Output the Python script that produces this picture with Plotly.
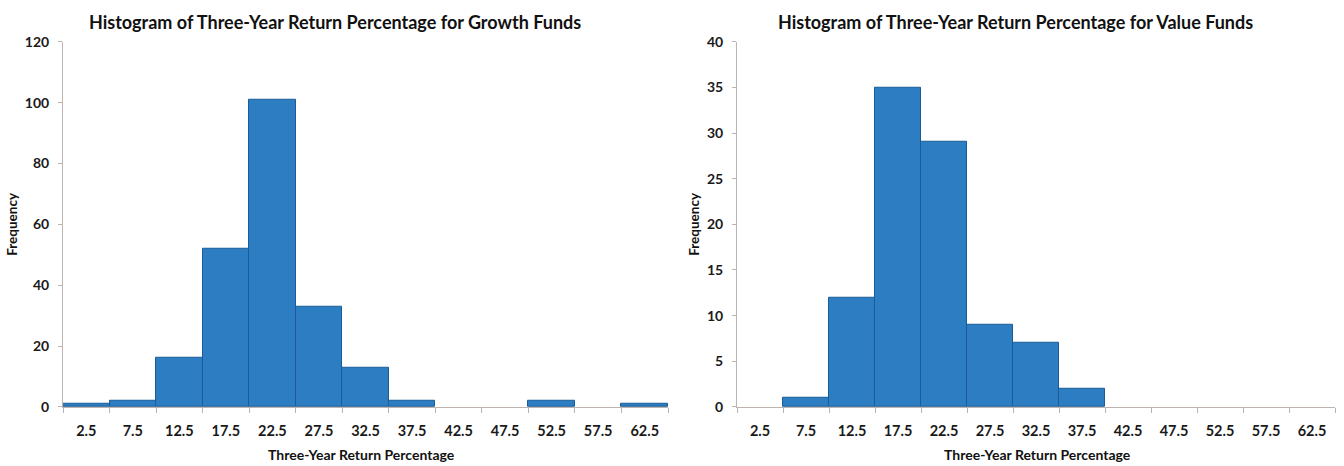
import plotly.graph_objects as go

# Bin midpoints (class width 5) used as category labels
bin_labels = ["2.5", "7.5", "12.5", "17.5", "22.5", "27.5", "32.5",
              "37.5", "42.5", "47.5", "52.5", "57.5", "62.5"]

# Frequencies per bin
growth_freq = [1, 2, 16, 52, 101, 33, 13, 2, 0, 0, 2, 0, 1]
value_freq = [0, 1, 12, 35, 29, 9, 7, 2, 0, 0, 0, 0, 0]

growth_title = "Histogram of Three-Year Return Percentage for Growth Funds"
value_title = "Histogram of Three-Year Return Percentage for Value Funds"
x_title = "Three-Year Return Percentage"
y_title = "Frequency"

FONT = "Lato"
BAR_FILL = "#2D7DC3"
BAR_EDGE = "#1B5C96"
AXIS_COL = "#BDB4B0"
W, H = 1344, 466


def bar_trace(values, xa, ya):
    # empty bins get no outline so nothing is drawn on the axis
    widths = [1 if v > 0 else 0 for v in values]
    return go.Bar(x=bin_labels, y=values, xaxis=xa, yaxis=ya,
                  marker=dict(color=BAR_FILL, line=dict(color=BAR_EDGE, width=widths)),
                  showlegend=False, hoverinfo="x+y")


fig = go.Figure()
fig.add_trace(bar_trace(growth_freq, "x", "y"))
fig.add_trace(bar_trace(value_freq, "x2", "y2"))

y_dom = [(H - 413) / H, (H - 34) / H]
left_dom = [63 / W, 668 / W]
right_dom = [737 / W, 1335 / W]

xaxis_common = dict(type="category", categoryorder="array", categoryarray=bin_labels,
                    range=[-0.5, 12.5], tickson="boundaries", ticks="outside",
                    ticklen=5, tickcolor=AXIS_COL, showline=True, linecolor=AXIS_COL,
                    linewidth=1, showgrid=False, zeroline=False, ticklabelstandoff=11,
                    tickfont=dict(family=FONT, size=14.5, color="#1a1a1a", weight="bold"))
yaxis_common = dict(ticks="outside", ticklen=4, tickcolor=AXIS_COL, showline=True,
                    linecolor=AXIS_COL, linewidth=1, showgrid=False, zeroline=False,
                    ticklabelstandoff=6,
                    tickfont=dict(family=FONT, size=14, color="#1a1a1a", weight="bold"))

fig.update_layout(
    width=W, height=H,
    margin=dict(l=0, r=0, t=0, b=0),
    plot_bgcolor="white", paper_bgcolor="white",
    bargap=0,
    xaxis=dict(domain=left_dom, anchor="y", **xaxis_common),
    yaxis=dict(domain=y_dom, anchor="x", range=[0, 120], dtick=20, **yaxis_common),
    xaxis2=dict(domain=right_dom, anchor="y2", **xaxis_common),
    yaxis2=dict(domain=y_dom, anchor="x2", range=[0, 40], dtick=5, **yaxis_common),
)


def note(text, x_px, y_px, size, angle=0, yanchor="middle"):
    fig.add_annotation(text=text, x=x_px / W, y=1 - y_px / H, xref="paper", yref="paper",
                       showarrow=False, textangle=angle, xanchor="center", yanchor=yanchor,
                       borderpad=0,
                       font=dict(family=FONT, size=size, color="#111111", weight="bold"))


note(growth_title, 335, 14, 18)
note(value_title, 1015, 14, 18)
note(x_title, 361, H + 6, 14, yanchor="bottom")
note(x_title, 1037, H + 6, 14, yanchor="bottom")
note(y_title, 12, 223, 13.5, -90)
note(y_title, 694, 223, 13.5, -90)

fig.write_html("out.html")
